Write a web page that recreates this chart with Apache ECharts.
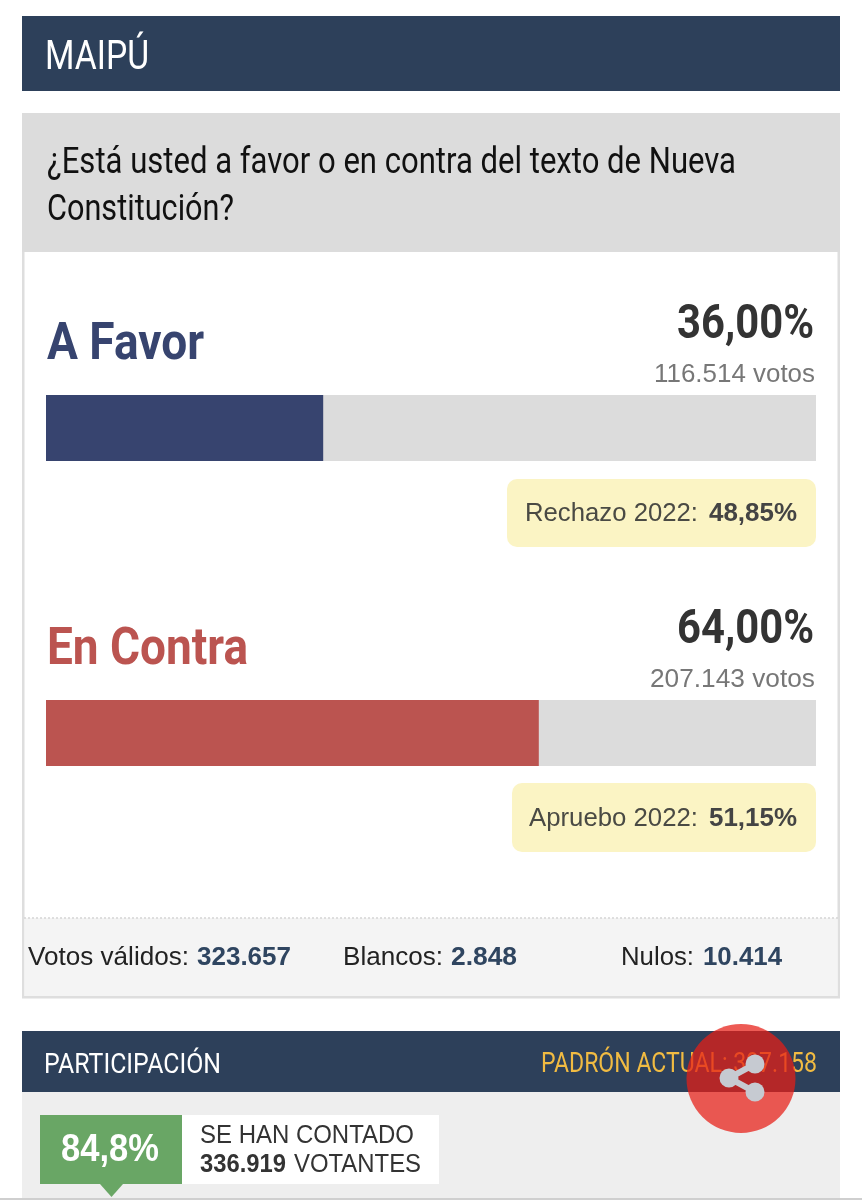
<!DOCTYPE html>
<html><head><meta charset="utf-8">
<style>html,body{margin:0;padding:0;background:#fff}#c{width:862px;height:1200px}</style>
<script src="https://cdn.jsdelivr.net/npm/echarts@6/dist/echarts.min.js"></script>
</head><body><div id="c"></div>
<script>
const categories = ['A Favor', 'En Contra'];
const percents = [36.00, 64.00];
const percentLabels = ['36,00%', '64,00%'];
const voteLabels = ['116.514 votos', '207.143 votos'];
const previousLabels = ['Rechazo 2022:', 'Apruebo 2022:'];
const previousValues = ['48,85%', '51,15%'];
const barColors = ['#37446f', '#bb5450'];
const RB = 'Roboto', LS = '"Liberation Sans"';
const NAVY = '#2d405a';

const cv = document.createElement('canvas').getContext('2d');
function T(text, x0, x1, y, size, weight, color, family, z) {
  const font = weight + ' ' + size + 'px ' + family;
  cv.font = font;
  return { type: 'text', x: x0, y: y, scaleX: (x1 - x0) / cv.measureText(text).width, z: z || 5,
    style: { x: 0, y: 0, text, font, fill: color, align: 'left', verticalAlign: 'middle' } };
}
function R(x, y, w, h, fill, r, z) {
  return { type: 'rect', z: z || 1, shape: { x, y, width: w, height: h, r: r || 0 }, style: { fill } };
}
const els = [
  R(22, 16, 818, 75, NAVY),
  T('MAIPÚ', 45, 149, 59, 41, 400, '#fff', RB),
  R(22, 113, 818, 139, '#dcdcdc'),
  T('¿Está usted a favor o en contra del texto de Nueva', 47, 736, 164, 37, 400, '#111', RB),
  T('Constitución?', 47, 234, 211, 37, 400, '#111', RB),
  R(22, 252, 2.5, 746, '#dedede'),
  R(837.5, 252, 2.5, 746, '#dedede'),
  R(24.5, 918, 813, 78, '#f4f4f4'),
  { type: 'line', z: 2, shape: { x1: 24, y1: 918, x2: 838, y2: 918 }, style: { stroke: '#d5d5d5', lineWidth: 1.5, lineDash: [2, 2] } },
  R(22, 996, 818, 2.5, '#dedede'),
  // vote rows
  T(categories[0], 47, 204, 346, 52, 700, barColors[0], RB),
  T(percentLabels[0], 677, 814, 326, 49, 700, '#333', RB),
  T(voteLabels[0], 654, 815, 375, 26, 400, '#777', LS),
  R(507, 479, 309, 68, '#fbf4c4', 10),
  T(previousLabels[0], 525, 698, 514, 25, 400, '#4a4a44', LS),
  T(previousValues[0], 709, 797, 514, 25, 700, '#444', LS),
  T(categories[1], 47, 248, 651, 52, 700, barColors[1], RB),
  T(percentLabels[1], 677, 814, 631, 49, 700, '#333', RB),
  T(voteLabels[1], 650, 815, 680, 26, 400, '#777', LS),
  R(512, 783, 304, 69, '#fbf4c4', 10),
  T(previousLabels[1], 529, 698, 819, 25, 400, '#4a4a44', LS),
  T(previousValues[1], 709, 797, 819, 25, 700, '#444', LS),
  // totals
  T('Votos válidos:', 28, 189, 958, 26, 400, '#222', LS),
  T('323.657', 197, 291, 958, 26, 700, '#2f4560', LS),
  T('Blancos:', 343, 443, 958, 26, 400, '#222', LS),
  T('2.848', 451, 517, 958, 26, 700, '#2f4560', LS),
  T('Nulos:', 621, 694, 958, 26, 400, '#222', LS),
  T('10.414', 703, 782, 958, 26, 700, '#2f4560', LS),
  // participation
  R(22, 1031, 818, 61, NAVY),
  R(22, 1092, 818, 106, '#eeeeee'),
  T('PARTICIPACIÓN', 44, 221, 1066, 28, 400, '#fff', RB),
  T('PADRÓN ACTUAL: 397.158', 541, 817, 1065, 28, 400, '#f1bb42', RB),
  R(40, 1115, 142, 69, '#69a665'),
  { type: 'polygon', z: 2, shape: { points: [[100, 1184], [123, 1184], [111.5, 1197]] }, style: { fill: '#69a665' } },
  R(182, 1115, 257, 69, '#ffffff'),
  T('84,8%', 61, 159, 1151, 38, 700, '#fff', LS),
  T('SE HAN CONTADO', 200, 414, 1136, 26, 400, '#333', LS),
  T('336.919', 200, 286, 1165, 26, 700, '#333', LS),
  T('VOTANTES', 294, 421, 1165, 26, 400, '#333', LS),
  R(0, 1198, 862, 2, '#cfcfcf', 0, 3),
  // floating share button
  { type: 'circle', z: 8, shape: { cx: 741, cy: 1078.5, r: 54.5 }, style: { fill: 'rgba(230,30,22,0.73)' } },
  { type: 'polyline', z: 9, shape: { points: [[755, 1064], [729, 1078], [755, 1092]] }, style: { stroke: '#c6cad1', lineWidth: 6, fill: null } },
  { type: 'circle', z: 9, shape: { cx: 755, cy: 1064, r: 9.5 }, style: { fill: '#c6cad1' } },
  { type: 'circle', z: 9, shape: { cx: 729, cy: 1078, r: 9.5 }, style: { fill: '#c6cad1' } },
  { type: 'circle', z: 9, shape: { cx: 755, cy: 1092, r: 9.5 }, style: { fill: '#c6cad1' } }
];

const tops = [395, 700];
const option = {
  animation: false,
  backgroundColor: '#fff',
  grid: tops.map(t => ({ left: 46, width: 770, top: t, height: 66, containLabel: false })),
  xAxis: tops.map((t, i) => ({ type: 'value', gridIndex: i, min: 0, max: 100, show: false })),
  yAxis: tops.map((t, i) => ({ type: 'category', gridIndex: i, data: [categories[i]], show: false })),
  series: tops.map((t, i) => ({
    type: 'bar', xAxisIndex: i, yAxisIndex: i, barWidth: '100%', z: 6,
    data: [percents[i]],
    itemStyle: { color: barColors[i] },
    showBackground: true,
    backgroundStyle: { color: '#dcdcdc' }
  })),
  graphic: { elements: els }
};
echarts.init(document.getElementById('c'), null, { renderer: 'canvas' }).setOption(option);
</script></body></html>
